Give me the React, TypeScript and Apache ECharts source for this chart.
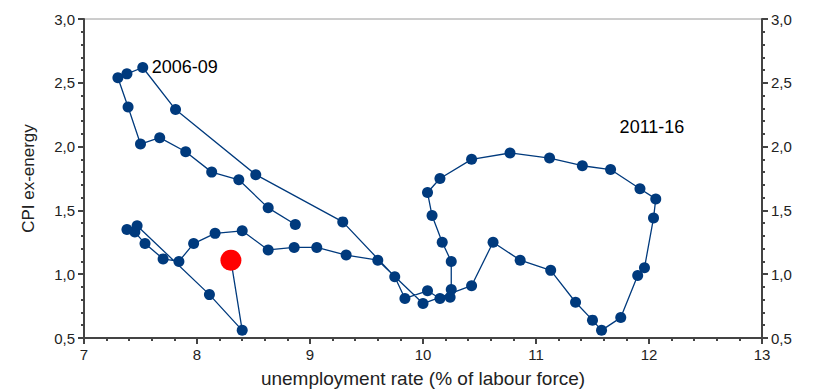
import { useEffect, useRef } from "react";
import * as echarts from "echarts";

// Quarterly path: unemployment rate (x) against CPI ex-energy inflation (y)
const unemployment = [
  8.87, 8.63, 8.37, 8.13, 7.9, 7.67, 7.5, 7.39, 7.3, 7.38, 7.52, 7.81, 8.52, 9.29,
  9.75, 9.84, 10.04, 10.15, 10.24, 10.25,
  10.25, 10.17, 10.08, 10.04, 10.15, 10.43, 10.77, 11.12, 11.41, 11.66, 11.92, 12.06,
  12.04, 11.96, 11.9, 11.75, 11.58, 11.5, 11.35, 11.13, 10.86, 10.62, 10.43,
  10.0, 9.6, 9.32, 9.06, 8.86, 8.63, 8.4, 8.16, 7.97, 7.84, 7.7, 7.54, 7.45, 7.38,
  7.47, 8.11, 8.4, 8.3,
];
const cpiExEnergy = [
  1.39, 1.52, 1.74, 1.8, 1.96, 2.07, 2.02, 2.31, 2.54, 2.57, 2.62, 2.29, 1.78, 1.41,
  0.98, 0.81, 0.87, 0.81, 0.82, 0.88,
  1.1, 1.25, 1.46, 1.64, 1.75, 1.9, 1.95, 1.91, 1.85, 1.82, 1.67, 1.59,
  1.44, 1.05, 0.99, 0.66, 0.56, 0.64, 0.78, 1.03, 1.11, 1.25, 0.91,
  0.77, 1.11, 1.15, 1.21, 1.21, 1.19, 1.34, 1.32, 1.24, 1.1, 1.12, 1.24, 1.33, 1.35,
  1.38, 0.84, 0.56, 1.11,
];

// Period annotations, anchored in data coordinates
const periodNames = ["2006-09", "2011-16"];
const periodAnchorX = [7.6, 11.74];
const periodAnchorY = [2.62, 2.15];

const xTicks = { min: 7, max: 13, step: 1 };
const yTicks = { min: 0.5, max: 3, step: 0.5 };

const NAVY = "#003a7d";
const AXIS = "#444444";
const FONT = "Liberation Sans, Arial, sans-serif";

const commaLabel = (v: number) => v.toFixed(1).replace(".", ",");

export default function App() {
  const ref = useRef<HTMLDivElement>(null);

  useEffect(() => {
    if (!ref.current) return;
    const chart = echarts.init(ref.current, undefined, { renderer: "svg" });

    const path = unemployment.map((u, i) => [u, cpiExEnergy[i]]);
    const last = path[path.length - 1];

    const tickStyle = { color: AXIS, width: 2 };
    const yAxisBase = {
      type: "value" as const,
      min: yTicks.min,
      max: yTicks.max,
      interval: yTicks.step,
      axisLine: { show: true, onZero: false, lineStyle: { color: AXIS, width: 2 } },
      axisTick: { show: true, inside: false, length: 6, lineStyle: tickStyle },
      minorTick: { show: true, splitNumber: 5, length: 3, lineStyle: tickStyle },
      splitLine: { show: false },
      minorSplitLine: { show: false },
      axisLabel: {
        color: "#222",
        fontSize: 15,
        fontFamily: FONT,
        margin: 9,
        formatter: commaLabel,
      },
    };

    chart.setOption({
      animation: false,
      backgroundColor: "#ffffff",
      grid: {
        left: 84,
        right: 51,
        top: 19,
        bottom: 52,
        containLabel: false,
        outerBoundsMode: "none",
        show: true,
        borderColor: "#9a9a9a",
        borderWidth: 1,
      },
      xAxis: {
        type: "value",
        min: xTicks.min,
        max: xTicks.max,
        interval: xTicks.step,
        axisLine: { show: true, onZero: false, lineStyle: { color: AXIS, width: 2 } },
        axisTick: { show: true, inside: false, length: 6, lineStyle: tickStyle },
        minorTick: { show: true, splitNumber: 5, length: 3, lineStyle: tickStyle },
        splitLine: { show: false },
        minorSplitLine: { show: false },
        axisLabel: { color: "#222", fontSize: 15, fontFamily: FONT, margin: 9 },
        name: "unemployment rate (% of labour force)",
        nameLocation: "middle",
        nameGap: 31,
        nameTextStyle: { color: "#222", fontSize: 19, fontFamily: FONT },
      },
      yAxis: [
        {
          ...yAxisBase,
          position: "left",
          name: "CPI ex-energy",
          nameLocation: "middle",
          nameGap: 47,
          nameTextStyle: { color: "#222", fontSize: 17, fontFamily: FONT },
        },
        { ...yAxisBase, position: "right" },
      ],
      series: [
        {
          type: "line",
          data: path,
          symbol: "circle",
          symbolSize: 11,
          showSymbol: true,
          lineStyle: { color: NAVY, width: 1.3 },
          itemStyle: { color: NAVY, opacity: 1 },
          emphasis: { disabled: true },
          z: 2,
        },
        {
          type: "scatter",
          data: [last],
          symbol: "circle",
          symbolSize: 21,
          itemStyle: { color: "#ff0000", opacity: 1 },
          emphasis: { disabled: true },
          z: 3,
        },
        {
          type: "scatter",
          data: periodNames.map((n, i) => ({
            name: n,
            value: [periodAnchorX[i], periodAnchorY[i]],
          })),
          symbolSize: 0,
          silent: true,
          itemStyle: { opacity: 1 },
          label: {
            show: true,
            position: "right",
            distance: 0,
            formatter: "{b}",
            color: "#000",
            fontSize: 18,
            fontFamily: FONT,
          },
          z: 4,
        },
      ],
    });

    return () => chart.dispose();
  }, []);

  return (
    <div
      ref={ref}
      style={{ position: "fixed", left: 0, top: 0, width: 813, height: 390 }}
    />
  );
}
